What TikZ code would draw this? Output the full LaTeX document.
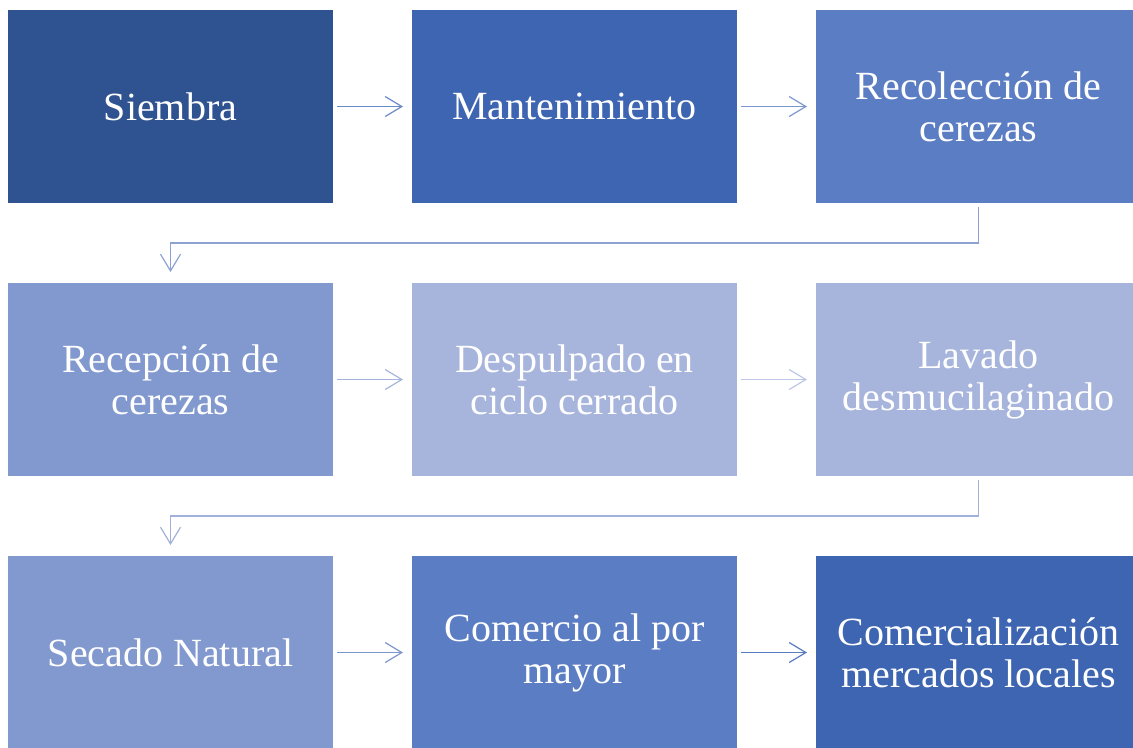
\documentclass[tikz,border=0pt]{standalone}
\usepackage{fontspec}
\setmainfont{Liberation Serif}
\usetikzlibrary{arrows.meta,positioning}
\definecolor{toneA}{HTML}{2F5290}
\definecolor{toneB}{HTML}{3E65B1}
\definecolor{toneC}{HTML}{5B7DC3}
\definecolor{toneD}{HTML}{8299CF}
\definecolor{toneE}{HTML}{A7B5DC}

\begin{document}
\begin{tikzpicture}[x=0.75pt, y=-0.75pt, node distance=60pt and 59.25pt, >={Straight Barb[length=12.5pt,width=15pt]}, font=\fontsize{30}{31.5}\selectfont]
  \tikzstyle{stage}=[align=center, text=white, inner sep=0pt, outer sep=0pt, minimum width=243.75pt, minimum height=144.75pt]
  \tikzstyle{link}=[->, line width=0.9pt, shorten <=3pt, shorten >=6.75pt]
  \useasboundingbox (0,0) rectangle (1133,747);

  \node[stage, fill=toneA, anchor=north west] (siembra) at (8,10) {Siembra};
  \node[stage, fill=toneB, right=of siembra] (mant) {Mantenimiento};
  \node[stage, fill=toneC, right=of mant] (recol) {Recolección de\\cerezas};
  \draw[link, color=toneC!90!white] (siembra) -- (mant);
  \draw[link, color=toneC!80!white] (mant) -- (recol);

  \node[stage, fill=toneD, below=of siembra] (recep) {Recepción de\\cerezas};
  \node[stage, fill=toneE, right=of recep] (despul) {Despulpado en\\ciclo cerrado};
  \node[stage, fill=toneE, right=of despul] (lavado) {Lavado\\desmucilaginado};
  \draw[link, color=toneE!95!toneD] (recep) -- (despul);
  \draw[link, color=toneE!75!white] (despul) -- (lavado);
  \draw[link, color=toneD!70!toneE, shorten >=8.25pt] (recol.south) -- ++(0,40) -| (recep.north);

  \node[stage, fill=toneD, below=of recep] (secado) {Secado Natural};
  \node[stage, fill=toneC, right=of secado] (comercio) {Comercio al por\\mayor};
  \node[stage, fill=toneB, right=of comercio] (mercados) {Comercialización\\mercados locales};
  \draw[link, color=toneD!90!toneC] (secado) -- (comercio);
  \draw[link, color=toneC!90!toneB] (comercio) -- (mercados);
  \draw[link, color=toneE!85!toneD, shorten >=8.25pt] (lavado.south) -- ++(0,40) -| (secado.north);
\end{tikzpicture}
\end{document}
